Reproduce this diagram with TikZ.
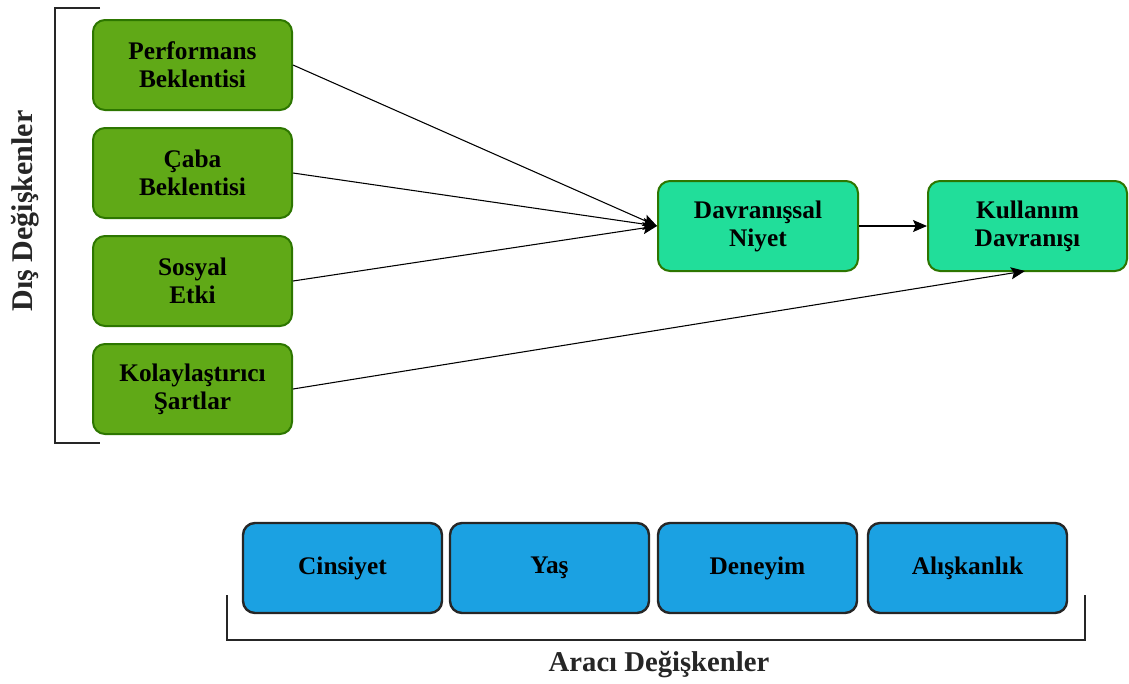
\documentclass[tikz,border=0pt]{standalone}
\usepackage{fontspec}
\setmainfont{Liberation Serif}
\usetikzlibrary{arrows.meta}
\definecolor{gfill}{HTML}{60A917}
\definecolor{gline}{HTML}{2D7600}
\definecolor{tfill}{HTML}{21DE9A}
\definecolor{bfill}{HTML}{1BA1E2}
\tikzset{
  box/.style={rounded corners=9pt, minimum width=149.25pt, minimum height=67.5pt,
    align=center, inner sep=0pt, font=\fontsize{19}{21}\selectfont\bfseries},
  gbox/.style={box, fill=gfill, draw=gline, line width=1.5pt},
  tbox/.style={box, fill=tfill, draw=gline, line width=1.5pt},
  bbox/.style={box, fill=bfill, draw=black!85, line width=1.8pt},
  conn/.style={line width=0.8pt, -{Stealth[length=10.5pt, width=9pt, inset=2pt]}},
  brace/.style={line width=2pt, draw=black!85},
  lbl/.style={font=\bfseries, text=black!85}
}
\begin{document}
\begin{tikzpicture}[x=0.75pt, y=-0.75pt]
\useasboundingbox (0,0) rectangle (1129,683);

% external variables
\node[gbox] (pe) at (192.5,65)  {Performans\\Beklentisi};
\node[gbox] (cb) at (192.5,173) {Çaba\\Beklentisi};
\node[gbox] (se) at (192.5,281) {Sosyal\\Etki};
\node[gbox] (ks) at (192.5,389) {Kolaylaştırıcı\\Şartlar};

% intention and behaviour
\node[tbox, minimum width=150pt] (dn) at (758,226)  {Davranışsal\\Niyet};
\node[tbox] (kd) at (1027.5,226) {Kullanım\\Davranışı};

% moderating variables
\node[bbox] (cin) at (342.5,568) {Cinsiyet};
\node[bbox] (yas) at (549.5,568) {Yaş};
\node[bbox] (den) at (757.5,568) {Deneyim};
\node[bbox] (ali) at (967.5,568) {Alışkanlık};

% connectors
\draw[conn] (pe.east) -- (dn.west);
\draw[conn] (cb.east) -- (dn.west);
\draw[conn] (se.east) -- (dn.west);
\draw[conn] (dn.east) -- (kd.west);
\coordinate (kin) at (1025,271);
\draw[conn] (ks.east) -- (kin);

% brackets
\coordinate (l1) at (100,8);
\coordinate (l2) at (55,8);
\coordinate (l3) at (55,443);
\coordinate (l4) at (100,443);
\draw[brace, line width=2.2pt] (l1) -- (l2) -- (l3) -- (l4);
\node[lbl, font=\fontsize{22.5}{26}\selectfont\bfseries, rotate=90] (dis) at (25,211) {Dış Değişkenler};

\coordinate (b1) at (227,595);
\coordinate (b2) at (227,640);
\coordinate (b3) at (1085,640);
\coordinate (b4) at (1085,595);
\draw[brace] (b1) -- (b2) -- (b3) -- (b4);
\node[lbl, font=\fontsize{21.5}{25}\selectfont\bfseries] (ara) at (659,665) {Aracı Değişkenler};
\end{tikzpicture}
\end{document}
